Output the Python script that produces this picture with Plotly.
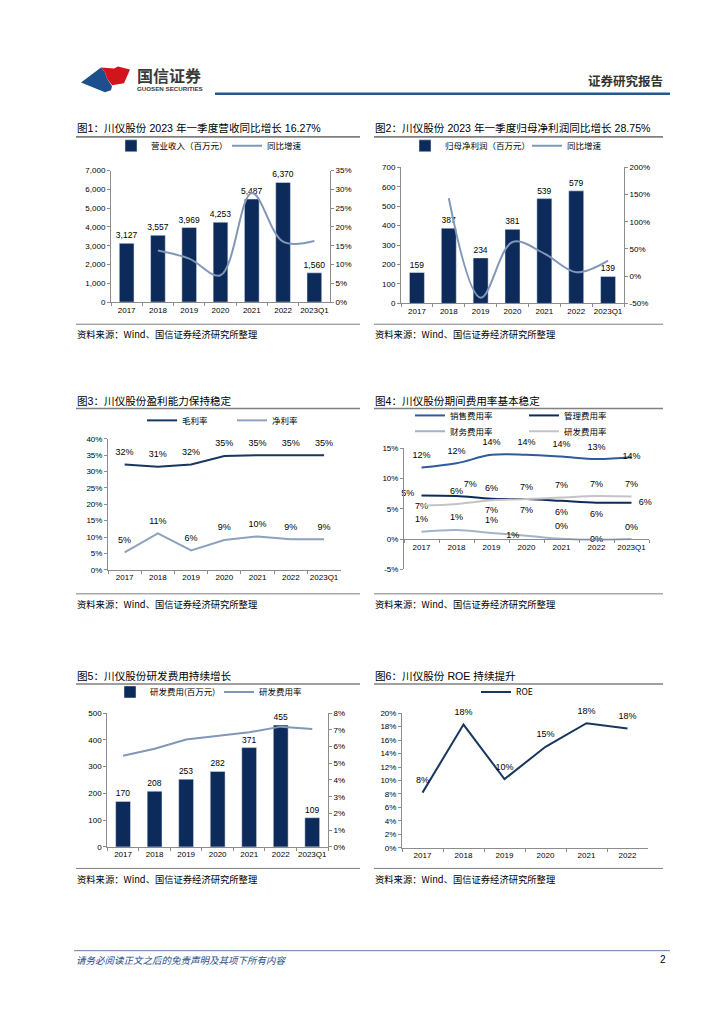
import plotly.graph_objects as go

W, H = 724, 1024
FONT = "Liberation Sans, Arial, Noto Sans CJK SC, sans-serif"
CJK = "Noto Sans CJK SC, Liberation Sans, sans-serif"

# ---------------- data ----------------
years = ['2017', '2018', '2019', '2020', '2021', '2022', '2023Q1']
years_roe = ['2017', '2018', '2019', '2020', '2021', '2022']

revenue = [3127, 3557, 3969, 4253, 5487, 6370, 1560]
revenue_yoy = [13.75, 11.58, 7.16, 29.02, 16.09, 16.27]          # 2018..2023Q1
net_profit = [159, 387, 234, 381, 539, 579, 139]
profit_yoy = [143.4, -39.5, 62.8, 41.5, 7.4, 28.75]              # 2018..2023Q1

gross_margin = [32.2, 31.5, 32.2, 34.8, 35.0, 35.0, 35.0]
gross_labels = ['32%', '31%', '32%', '35%', '35%', '35%', '35%']
net_margin = [5.3, 11.1, 5.9, 9.1, 10.2, 9.3, 9.3]
net_labels = ['5%', '11%', '6%', '9%', '10%', '9%', '9%']

sales_rate = [11.8, 12.5, 13.9, 13.9, 13.6, 13.2, 13.5]
sales_labels = ['12%', '12%', '14%', '14%', '14%', '13%', '14%']
mgmt_rate = [7.2, 7.1, 6.65, 6.6, 6.3, 6.0, 6.0]
mgmt_labels = ['7%', '7%', '7%', '7%', '6%', '6%', '6%']
fin_rate = [1.2, 1.5, 1.0, 0.55, 0.05, -0.1, 0.0]
fin_labels = ['1%', '1%', '1%', '1%', '0%', '0%', '0%']
rd_rate4 = [5.5, 5.8, 6.4, 6.6, 6.85, 7.1, 7.0]
rd_labels4 = ['5%', '6%', '6%', '7%', '7%', '7%', '7%']

rd_expense = [170, 208, 253, 282, 371, 455, 109]
rd_rate = [5.45, 5.87, 6.42, 6.65, 6.85, 7.19, 7.05]

roe = [8.2, 18.3, 10.2, 15.0, 18.5, 17.7]
roe_labels = ['8%', '18%', '10%', '15%', '18%', '18%']

pct_ticks_35 = [0, 5, 10, 15, 20, 25, 30, 35]
pct_ticks_200 = [-50, 0, 50, 100, 150, 200]
pct_ticks_8 = [0, 1, 2, 3, 4, 5, 6, 7, 8]
pct_ticks_c4 = [-5, 0, 5, 10, 15]

# ---------------- colours ----------------
NAVY = '#0c2a5a'
GROWTH = '#8197b8'
GROSS = '#17375e'
NET = '#8ea2be'
SALES = '#2f5b9a'
MGMT = '#0c2a5a'
FIN = '#a2b4cb'
RD = '#c4c4c4'

LABEL_FONT = dict(size=9, color='#000', family=FONT)
HIDDEN_MARKER = dict(size=10, color='rgba(0,0,0,0)', line=dict(width=0))


def px(x):
    return x / W


def py(y):
    return 1 - y / H


fig = go.Figure()

# ---------- chart 1 ----------
fig.add_trace(go.Bar(x=years, y=revenue, name='营业收入（百万元）', marker_color=NAVY, width=0.47,
                     texttemplate='%{y:,}', textposition='outside', constraintext='none',
                     textfont=dict(size=8.5, color='#000', family=FONT), cliponaxis=False,
                     xaxis='x', yaxis='y', legend='legend'))
fig.add_trace(go.Scatter(x=years[1:], y=revenue_yoy, name='同比增速', mode='lines',
                         line=dict(color=GROWTH, width=2, shape='spline'),
                         xaxis='x', yaxis='y2', legend='legend2'))

# ---------- chart 2 ----------
fig.add_trace(go.Bar(x=years, y=net_profit, name='归母净利润（百万元）', marker_color=NAVY, width=0.47,
                     texttemplate='%{y}', textposition='outside', constraintext='none',
                     textfont=dict(size=8.5, color='#000', family=FONT), cliponaxis=False,
                     xaxis='x2', yaxis='y3', legend='legend3'))
fig.add_trace(go.Scatter(x=years[1:], y=profit_yoy, name='同比增速', mode='lines',
                         line=dict(color=GROWTH, width=2, shape='spline'),
                         xaxis='x2', yaxis='y4', legend='legend4'))

# ---------- chart 3 ----------
fig.add_trace(go.Scatter(x=years, y=gross_margin, name='毛利率', mode='lines+markers+text', text=gross_labels,
                         textposition='top center', textfont=LABEL_FONT, marker=HIDDEN_MARKER,
                         line=dict(color=GROSS, width=2), cliponaxis=False,
                         xaxis='x3', yaxis='y5', legend='legend5'))
fig.add_trace(go.Scatter(x=years, y=net_margin, name='净利率', mode='lines+markers+text', text=net_labels,
                         textposition='top center', textfont=LABEL_FONT, marker=HIDDEN_MARKER,
                         line=dict(color=NET, width=2), cliponaxis=False,
                         xaxis='x3', yaxis='y5', legend='legend6'))

# ---------- chart 4 ----------
fig.add_trace(go.Scatter(x=years, y=sales_rate, name='销售费用率', mode='lines+markers+text', text=sales_labels,
                         textposition=['top center'] * 6 + ['middle center'],
                         textfont=LABEL_FONT, marker=HIDDEN_MARKER,
                         line=dict(color=SALES, width=2, shape='spline'), cliponaxis=False,
                         xaxis='x4', yaxis='y6', legend='legend7'))
fig.add_trace(go.Scatter(x=years, y=mgmt_rate, name='管理费用率', mode='lines+markers+text', text=mgmt_labels,
                         textposition=['bottom center', 'top right', 'bottom center', 'bottom center',
                                       'bottom center', 'bottom center', 'middle right'],
                         textfont=LABEL_FONT, marker=HIDDEN_MARKER,
                         line=dict(color=MGMT, width=2, shape='spline'), cliponaxis=False,
                         xaxis='x4', yaxis='y6', legend='legend8'))
fig.add_trace(go.Scatter(x=years, y=fin_rate, name='财务费用率', mode='lines+markers+text', text=fin_labels,
                         textposition=['top center', 'top center', 'top center', 'middle left',
                                       'top center', 'middle center', 'top center'],
                         textfont=LABEL_FONT, marker=HIDDEN_MARKER,
                         line=dict(color=FIN, width=2, shape='spline'), cliponaxis=False,
                         xaxis='x4', yaxis='y6', legend='legend9'))
fig.add_trace(go.Scatter(x=years, y=rd_rate4, name='研发费用率', mode='lines+markers+text', text=rd_labels4,
                         textposition=['top left'] + ['top center'] * 6,
                         textfont=LABEL_FONT, marker=HIDDEN_MARKER,
                         line=dict(color=RD, width=2, shape='spline'), cliponaxis=False,
                         xaxis='x4', yaxis='y6', legend='legend10'))

# ---------- chart 5 ----------
fig.add_trace(go.Bar(x=years, y=rd_expense, name='研发费用(百万元)', marker_color=NAVY, width=0.47,
                     texttemplate='%{y}', textposition='outside', constraintext='none',
                     textfont=dict(size=8.5, color='#000', family=FONT), cliponaxis=False,
                     xaxis='x5', yaxis='y7', legend='legend11'))
fig.add_trace(go.Scatter(x=years, y=rd_rate, name='研发费用率', mode='lines',
                         line=dict(color=GROWTH, width=2),
                         xaxis='x5', yaxis='y8', legend='legend12'))

# ---------- chart 6 ----------
fig.add_trace(go.Scatter(x=years_roe, y=roe, name='ROE', mode='lines+markers+text', text=roe_labels,
                         textposition='top center', textfont=LABEL_FONT, marker=HIDDEN_MARKER,
                         line=dict(color=GROSS, width=2), cliponaxis=False,
                         xaxis='x6', yaxis='y9', legend='legend13'))

# ---------------- axes ----------------
AX = dict(showgrid=False, zeroline=False, showline=True, linecolor='#8c8c8c', linewidth=1,
          ticks='outside', ticklen=3, tickcolor='#8c8c8c',
          tickfont=dict(size=8, color='#000', family=FONT), fixedrange=True)


def xcat(x0, x1, anchor, n, **kw):
    d = dict(domain=[px(x0), px(x1)], type='category', range=[-0.5, n - 0.5],
             tickson='boundaries', tickangle=0, anchor=anchor, **AX)
    d.update(kw)
    return d


def yax(top, bottom, anchor, rng, **kw):
    d = dict(domain=[py(bottom), py(top)], anchor=anchor, range=rng, **AX)
    d.update(kw)
    return d


def pct_text(vals):
    return [f'{v}%' for v in vals]


layout = dict(
    width=W, height=H, margin=dict(l=0, r=0, t=0, b=0),
    paper_bgcolor='white', plot_bgcolor='white',
    font=dict(family=FONT, size=9, color='#000'),
    showlegend=True,
    xaxis=xcat(103, 322, 'y', 7),
    yaxis=yax(160, 292.7, 'x', [0, 7000], dtick=1000, tickformat=','),
    yaxis2=dict(overlaying='y', side='right', anchor='x', range=[0, 35],
                tickvals=pct_ticks_35, ticktext=pct_text(pct_ticks_35), **AX),
    xaxis2=xcat(393, 616, 'y3', 7),
    yaxis3=yax(156.7, 294, 'x2', [0, 700], dtick=100),
    yaxis4=dict(overlaying='y3', side='right', anchor='x2', range=[-50, 200],
                tickvals=pct_ticks_200, ticktext=pct_text(pct_ticks_200), **AX),
    xaxis3=xcat(100, 332.7, 'y5', 7),
    yaxis5=yax(430.7, 562.7, 'x3', [0, 40], dtick=5, ticksuffix='%'),
    xaxis4=xcat(396, 641, 'free', 7, position=py(531.7)),
    yaxis6=yax(440, 562.3, 'x4', [-5, 15], tickvals=pct_ticks_c4, ticktext=pct_text(pct_ticks_c4)),
    xaxis5=xcat(99.3, 320, 'y7', 7),
    yaxis7=yax(707.3, 842.3, 'x5', [0, 500], dtick=100),
    yaxis8=dict(overlaying='y7', side='right', anchor='x5', range=[0, 8],
                tickvals=pct_ticks_8, ticktext=pct_text(pct_ticks_8), **AX),
    xaxis6=xcat(394, 640, 'y9', 6),
    yaxis9=yax(707.3, 843.3, 'x6', [0, 20], dtick=2, ticksuffix='%'),
)


def legend_at(text_x, yc, size=8.5):
    return dict(x=px(text_x - 46), y=py(yc - 8), xanchor='left', yanchor='middle', orientation='h',
                bgcolor='rgba(0,0,0,0)', borderwidth=0, itemwidth=30,
                font=dict(size=size, family=CJK, color='#000'))


leg_pos = {
    'legend': (149, 143), 'legend2': (265, 143),
    'legend3': (443, 143), 'legend4': (565, 143),
    'legend5': (180, 420), 'legend6': (270, 420),
    'legend7': (448, 415), 'legend8': (562, 415),
    'legend9': (448, 431), 'legend10': (562, 431),
    'legend11': (148, 694), 'legend12': (257, 694),
    'legend13': (514, 694),
}
for k, (tx, ty) in leg_pos.items():
    layout[k] = legend_at(tx, ty)

# ---------------- shapes ----------------
shapes = []


def hline(x0, x1, y, color, width):
    shapes.append(dict(type='line', xref='paper', yref='paper', x0=px(x0), x1=px(x1),
                       y0=py(y), y1=py(y), line=dict(color=color, width=width)))


hline(207, 662, 82.5, '#1f5a96', 2.5)
for yy in (126, 400, 678):
    hline(68, 352, yy, '#808080', 1.6)
    hline(366, 655, yy, '#808080', 1.6)
for yy in (315, 587, 864):
    hline(68, 352, yy, '#808080', 1)
    hline(366, 655, yy, '#808080', 1)
hline(66, 662, 947, '#5b7fa8', 1)


def poly(points, color):
    path = 'M ' + ' L '.join(f'{px(x)},{py(y)}' for x, y in points) + ' Z'
    shapes.append(dict(type='path', xref='paper', yref='paper', path=path,
                       fillcolor=color, line=dict(width=0)))


poly([(73, 71), (93, 56), (97, 61), (99, 67), (104, 75), (103, 79), (97, 81)], '#1d4f8c')
poly([(93, 56), (106, 57), (110, 55), (122, 58), (116, 72), (104, 74), (99, 67), (97, 61)], '#d4141d')
layout['shapes'] = shapes

# ---------------- annotations ----------------
ann = []


def text(x, y, s, size, anchor='left', color='#000', family=CJK):
    ann.append(dict(x=px(x), y=py(y), xref='paper', yref='paper', text=s, showarrow=False,
                    xanchor=anchor, yanchor='middle', font=dict(size=size, color=color, family=family)))


text(127, 63.5, '<b>国信证券</b>', 16, color='#3a3a3a')
text(127, 77.5, '<b>GUOSEN SECURITIES</b>', 6.2, color='#3a3a3a', family=FONT)
text(657, 69, '<b>证券研究报告</b>', 12.5, anchor='right', color='#333')

TS = 10.6
text(67, 117, '图1：川仪股份 2023 年一季度营收同比增长 16.27%', TS, family=FONT)
text(365, 117, '图2：川仪股份 2023 年一季度归母净利润同比增长 28.75%', TS, family=FONT)
text(67, 392, '图3：川仪股份盈利能力保持稳定', TS, family=FONT)
text(365, 392, '图4：川仪股份期间费用率基本稳定', TS, family=FONT)
text(67, 670, '图5：川仪股份研发费用持续增长', TS, family=FONT)
text(365, 670, '图6：川仪股份 ROE 持续提升', TS, family=FONT)

src = '资料来源：Wind、国信证券经济研究所整理'
for yy in (325, 597, 875):
    text(67, yy, src, 9.3)
    text(365, yy, src, 9.3)

text(66, 956, '<i>请务必阅读正文之后的免责声明及其项下所有内容</i>', 9.5, color='#1f4e8c')
text(655, 956, '2', 10, anchor='center', family=FONT)
layout['annotations'] = ann

fig.update_layout(**layout)
fig.write_html('out.html')
